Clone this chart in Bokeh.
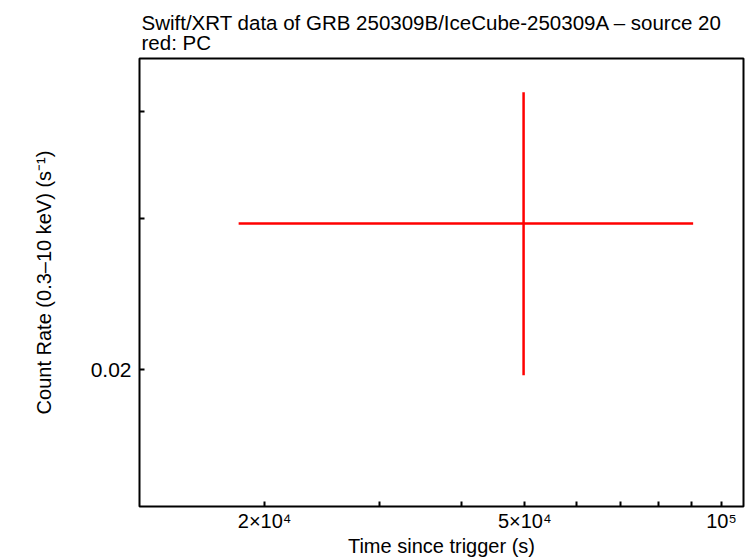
from bokeh.plotting import figure
from bokeh.models import FixedTicker, Range1d, ColumnDataSource
from bokeh.embed import file_html
from bokeh.resources import INLINE

# Data
time_s = [49800.0]
time_lo = [18250.0]
time_hi = [90500.0]
rate = [0.0296]
rate_lo = [0.0197]
rate_hi = [0.0421]

x_ticks = [20000, 30000, 40000, 50000, 60000, 70000, 80000, 90000, 100000]
x_tick_labels = {20000: "2×10⁴", 50000: "5×10⁴", 100000: "10⁵"}
y_ticks = [0.02, 0.03, 0.04]
y_tick_labels = {0.02: "0.02", 0.03: "", 0.04: ""}

title_text = "Swift/XRT data of GRB 250309B/IceCube-250309A – source 20\nred: PC"
x_label = "Time since trigger (s)"
y_label = "Count Rate (0.3–10 keV) (s⁻¹)"

FONT = "Liberation Sans"

p = figure(frame_width=604, frame_height=448, x_axis_type="log", y_axis_type="log",
           x_range=Range1d(12870, 108070), y_range=Range1d(0.013854, 0.04610),
           output_backend="svg", toolbar_location=None,
           min_border_left=139, min_border_right=3, min_border_top=58, min_border_bottom=0)

p.title.text = title_text
p.title.text_font = FONT
p.title.text_font_size = "20.5px"
p.title.text_font_style = "normal"
p.title.text_color = "black"
p.title.text_line_height = 0.9
p.title.align = "left"
p.title.offset = 2
p.title.standoff = 8

p.grid.visible = False
p.outline_line_color = "black"
p.outline_line_width = 2
p.outline_line_alpha = 1.0
p.background_fill_color = "white"
p.border_fill_color = "white"

xa = p.xaxis[0]
xa.ticker = FixedTicker(ticks=x_ticks)
overrides = {}
for t in x_ticks:
    overrides[t] = x_tick_labels.get(t, "")
xa.major_label_overrides = overrides
xa.major_tick_in = 5
xa.major_tick_out = 0
xa.minor_tick_in = 0
xa.minor_tick_out = 0
xa.major_tick_line_width = 2
xa.major_tick_line_color = "black"
xa.axis_line_color = None
xa.major_label_text_font = FONT
xa.major_label_text_font_size = "20px"
xa.major_label_text_color = "black"
xa.major_label_standoff = 3
xa.axis_label = x_label
xa.axis_label_text_font = FONT
xa.axis_label_text_font_size = "20px"
xa.axis_label_text_font_style = "normal"
xa.axis_label_text_color = "black"
xa.axis_label_standoff = 0

ya = p.yaxis[0]
ya.ticker = FixedTicker(ticks=y_ticks)
ya.major_label_overrides = y_tick_labels
ya.major_tick_in = 5
ya.major_tick_out = 0
ya.minor_tick_in = 0
ya.minor_tick_out = 0
ya.major_tick_line_width = 2
ya.major_tick_line_color = "black"
ya.axis_line_color = None
ya.major_label_text_font = FONT
ya.major_label_text_font_size = "21px"
ya.major_label_text_color = "black"
ya.major_label_standoff = 8
ya.axis_label = y_label
ya.axis_label_text_font = FONT
ya.axis_label_text_font_size = "20px"
ya.axis_label_text_font_style = "normal"
ya.axis_label_text_color = "black"
ya.axis_label_standoff = 33

src = ColumnDataSource(dict(t=time_s, tlo=time_lo, thi=time_hi, r=rate, rlo=rate_lo, rhi=rate_hi))
p.segment(x0="tlo", x1="thi", y0="r", y1="r", source=src, line_color="#ff0000", line_width=2.5)
p.segment(x0="t", x1="t", y0="rlo", y1="rhi", source=src, line_color="#ff0000", line_width=2.5)

open("out.html", "w").write(file_html(p, INLINE))
